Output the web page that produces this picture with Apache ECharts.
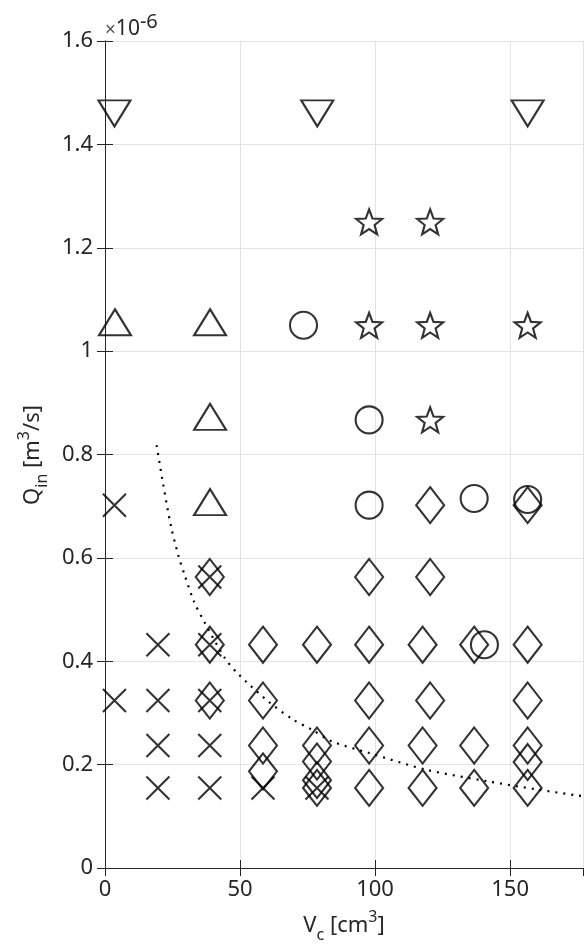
<!DOCTYPE html>
<html>
<head>
<meta charset="utf-8">
<script src="https://cdn.jsdelivr.net/npm/echarts@6/dist/echarts.min.js"></script>
<style>
html,body{margin:0;padding:0;background:#fff;}
#chart{width:584px;height:945px;}
</style>
</head>
<body>
<div id="chart"></div>
<script>
// ---- data (Q_in in units of 1e-6 m^3/s, V_c in cm^3) ----
var crossX = [3.5, 3.5, 19.6, 19.6, 19.6, 19.6, 38.8, 38.8, 38.8, 38.8, 38.8, 58.5, 78.5];
var crossY = [0.702, 0.324, 0.432, 0.324, 0.237, 0.155, 0.563, 0.432, 0.324, 0.237, 0.155, 0.155, 0.155];

var diamondX = [38.8, 38.8, 38.8,
                58.5, 58.5, 58.5, 58.5,
                78.5, 78.5, 78.5, 78.5, 78.5,
                97.8, 97.8, 97.8, 97.8, 97.8,
                117.6, 117.6, 117.6, 120.4, 120.4, 120.4,
                136.7, 136.7, 136.7,
                156.5, 156.5, 156.5, 156.5, 156.5, 156.5];
var diamondY = [0.563, 0.432, 0.324,
                0.432, 0.324, 0.237, 0.187,
                0.432, 0.237, 0.206, 0.170, 0.155,
                0.563, 0.432, 0.324, 0.237, 0.155,
                0.432, 0.237, 0.155, 0.702, 0.563, 0.324,
                0.432, 0.237, 0.155,
                0.702, 0.432, 0.324, 0.237, 0.205, 0.155];

var circleX = [73.5, 97.8, 97.8, 136.7, 156.5, 140.5];
var circleY = [1.05, 0.867, 0.702, 0.715, 0.713, 0.432];

var starX = [97.8, 120.4, 97.8, 120.4, 156.5, 120.4];
var starY = [1.25, 1.25, 1.05, 1.05, 1.05, 0.867];

var triUpX = [3.7, 38.9, 38.9, 38.9];
var triUpY = [1.05, 1.05, 0.867, 0.702];

var triDownX = [3.5, 78.6, 156.5];
var triDownY = [1.46, 1.46, 1.46];

var curveX = [19.1, 21.6, 24.4, 27.2, 29.6, 33.0, 37.0, 44.4, 49.4, 60.5, 69.7, 76.5, 84.0, 97.5, 119.1, 141.4, 160.0, 175.3, 177.0];
var curveY = [0.818, 0.741, 0.662, 0.604, 0.565, 0.515, 0.474, 0.406, 0.375, 0.322, 0.287, 0.268, 0.245, 0.223, 0.190, 0.168, 0.152, 0.140, 0.139];

var xTicks = [0, 50, 100, 150];
var yTicks = [0, 0.2, 0.4, 0.6, 0.8, 1, 1.2, 1.4, 1.6];

function zip(xs, ys) { return xs.map(function (x, i) { return [x, ys[i]]; }); }

var TXT = '#262626';
var FONT = 'Noto Sans';
var STAR = 'path://M10,0 L12.47,6.6 L19.51,6.91 L13.99,11.3 L15.88,18.09 L10,14.2 L4.12,18.09 L6.01,11.3 L0.49,6.91 L7.53,6.6 Z';
var CROSS = 'path://M0,0L10,10M10,0L0,10';

function markerSeries(name, data, symbol, size, extra) {
  var s = {
    name: name, type: 'scatter', xAxisIndex: 0, yAxisIndex: 0,
    data: data, symbol: symbol, symbolSize: size,
    itemStyle: { color: 'none', borderColor: '#000', borderWidth: 2.1 },
    emphasis: { disabled: true }, silent: true, z: 5
  };
  if (extra) for (var k in extra) s[k] = extra[k];
  return s;
}

var chart = echarts.init(document.getElementById('chart'), null, { renderer: 'canvas' });
var axisCommon = {
  type: 'value',
  axisLine: { show: true, lineStyle: { color: TXT, width: 1 } },
  axisTick: { show: true, inside: true, length: 8, lineStyle: { color: TXT, width: 1 } }
};

chart.setOption({
  animation: false,
  backgroundColor: '#fff',
  grid: { left: 105, right: 1, top: 41, bottom: 77, containLabel: false },
  xAxis: [
    Object.assign({}, axisCommon, {
      position: 'bottom', min: 0, max: 177, interval: 50,
      axisLabel: { color: TXT, fontSize: 22, fontFamily: FONT, margin: 11, showMaxLabel: false,
        formatter: function (v) { return xTicks.indexOf(v) >= 0 ? String(v) : ''; } },
      splitLine: { show: true, lineStyle: { color: '#e3e3e3', width: 1 } }
    }),
    Object.assign({}, axisCommon, {
      position: 'top', min: 0, max: 177, interval: 50,
      axisLabel: { show: false }, splitLine: { show: false }
    })
  ],
  yAxis: [
    Object.assign({}, axisCommon, {
      position: 'left', min: 0, max: 1.6, interval: 0.2,
      name: '{x|×}{b|10}{p|-6}', nameLocation: 'end', nameGap: 1,
      nameTextStyle: {
        align: 'left', verticalAlign: 'bottom', color: TXT, fontSize: 21, fontFamily: FONT,
        rich: {
          x: { fontSize: 19, fontFamily: FONT, color: '#555', lineHeight: 28, verticalAlign: 'bottom' },
          b: { fontSize: 21, fontFamily: FONT, color: TXT, lineHeight: 28, verticalAlign: 'bottom' },
          p: { fontSize: 20, fontFamily: FONT, color: TXT, lineHeight: 28, verticalAlign: 'top' }
        }
      },
      axisLabel: { color: TXT, fontSize: 22, fontFamily: FONT, margin: 12,
        formatter: function (v) { return String(Math.round(v * 10) / 10); } },
      splitLine: { show: true, lineStyle: { color: '#e3e3e3', width: 1 } }
    }),
    Object.assign({}, axisCommon, {
      position: 'right', min: 0, max: 1.6, interval: 0.2,
      axisLabel: { show: false }, splitLine: { show: false }
    })
  ],
  series: [
    {
      type: 'line', data: zip(curveX, curveY), smooth: 0.3, symbol: 'none',
      lineStyle: { color: '#000', width: 2.2, type: [2, 6], cap: 'butt' },
      emphasis: { disabled: true }, silent: true, z: 3
    },
    markerSeries('cross', zip(crossX, crossY), CROSS, 23),
    markerSeries('diamond', zip(diamondX, diamondY), 'diamond', [28, 36]),
    markerSeries('circle', zip(circleX, circleY), 'circle', 27),
    markerSeries('star', zip(starX, starY), STAR, [26, 25]),
    markerSeries('triUp', zip(triUpX, triUpY), 'triangle', [32, 26], { symbolOffset: [0, -3] }),
    markerSeries('triDown', zip(triDownX, triDownY), 'triangle', [32, 26], { symbolRotate: 180 })
  ],
  graphic: [
    { type: 'text', x: 344, y: 926,
      style: {
        text: '{b|V}{s|c}{b| [cm}{p|3}{b|]}', align: 'center', verticalAlign: 'middle',
        rich: {
          b: { fontSize: 22, fontFamily: FONT, fill: TXT, lineHeight: 34, verticalAlign: 'middle' },
          s: { fontSize: 16, fontFamily: FONT, fill: TXT, lineHeight: 34, verticalAlign: 'bottom' },
          p: { fontSize: 16, fontFamily: FONT, fill: TXT, lineHeight: 34, verticalAlign: 'top' }
        }
      }
    },
    { type: 'text', x: 33, y: 455, rotation: Math.PI / 2,
      style: {
        text: '{b|Q}{s|in}{b| [m}{p|3}{b|/s]}', align: 'center', verticalAlign: 'middle',
        rich: {
          b: { fontSize: 22, fontFamily: FONT, fill: TXT, lineHeight: 34, verticalAlign: 'middle' },
          s: { fontSize: 16, fontFamily: FONT, fill: TXT, lineHeight: 34, verticalAlign: 'bottom' },
          p: { fontSize: 16, fontFamily: FONT, fill: TXT, lineHeight: 34, verticalAlign: 'top' }
        }
      }
    }
  ]
});
</script>
</body>
</html>
